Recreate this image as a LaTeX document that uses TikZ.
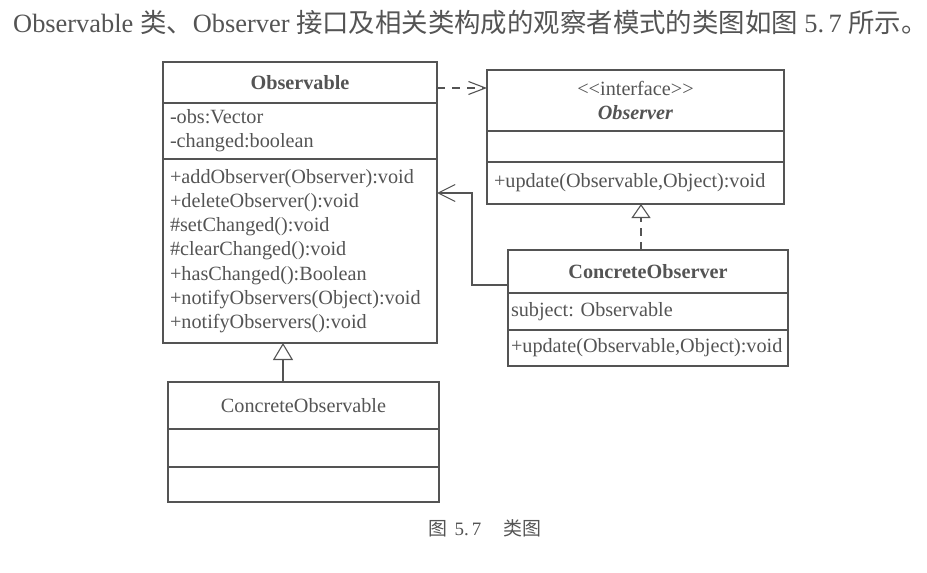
\documentclass[tikz,border=0pt]{standalone}
\usepackage{fontspec}
\setmainfont{Liberation Serif}
\newfontfamily\cjkfont{Noto Sans CJK SC}
\usetikzlibrary{arrows.meta, calc}

\definecolor{ink}{gray}{0.33}

\tikzset{
  compart/.style={draw=ink, line width=1.1bp, anchor=north west, outer sep=0pt,
    inner xsep=7bp, inner ysep=0pt, align=left, text=ink,
    font=\fontsize{20.3}{24.3}\selectfont\frenchspacing},
  head/.style={align=center},
  uml/.style={draw=ink, line width=1.1bp},
  dep/.style={uml, dash pattern=on 8bp off 7bp, -{Straight Barb[length=17bp, width=13bp]}},
  assoc/.style={uml, -{Straight Barb[length=17bp, width=17bp]}},
  inherit/.style={uml, -{Triangle[open, length=17bp, width=20bp]}},
  realize/.style={uml, dash pattern=on 8bp off 6bp, -{Triangle[open, length=14bp, width=19bp]}}
}

\begin{document}
\begin{tikzpicture}[x=1bp, y=-1bp]
\useasboundingbox (0,0) rectangle (927,573);

%%%%%%%%%%%%%%%%%%%
% The text line above the figure

\node[anchor=base west, inner sep=0pt, text=ink, font=\fontsize{26.5}{30}\selectfont] (intro) at (13,33)
  {Observable {\cjkfont 类、}Observer {\cjkfont 接口及相关类构成的观察者模式的类图如图} 5.\,7 {\cjkfont 所示。}};

%%%%%%%%%%%%%%%%%%%
% Observable

\node[compart, head, text width=260bp, minimum height=41bp] (obsHead) at (163,62) {\textbf{Observable}};
\node[compart, text width=260bp, minimum height=56bp] (obsAttr) at (obsHead.south west)
  {-obs:Vector\\-changed:boolean};
\node[compart, text width=260bp, minimum height=184bp] (obsOps) at (obsAttr.south west)
  {+addObserver(Observer):void\\
   +deleteObserver():void\\
   \#setChanged():void\\
   \#clearChanged():void\\
   +hasChanged():Boolean\\
   +notifyObservers(Object):void\\
   +notifyObservers():void};

%%%%%%%%%%%%%%%%%%%
% Observer (interface)

\node[compart, head, text width=283bp, minimum height=61bp] (ifHead) at (487,70)
  {<\kern0pt<interface>\kern0pt>\\\textbf{\textit{Observer}}};
\node[compart, text width=283bp, minimum height=31bp] (ifAttr) at (ifHead.south west) {};
\node[compart, text width=283bp, minimum height=42bp] (ifOps) at (ifAttr.south west)
  {+update(Observable,Object):void};

%%%%%%%%%%%%%%%%%%%
% ConcreteObserver

\node[compart, head, text width=266bp, minimum height=43bp] (coHead) at (508,250) {\textbf{ConcreteObserver}};
\node[compart, text width=274bp, minimum height=37bp, inner xsep=3bp] (coAttr) at (coHead.south west)
  {subject: Observable};
\node[compart, text width=274bp, minimum height=36bp, inner xsep=3bp] (coOps) at (coAttr.south west)
  {+update(Observable,Object):void};

%%%%%%%%%%%%%%%%%%%
% ConcreteObservable

\node[compart, head, text width=257bp, minimum height=47bp] (cobHead) at (168,382) {ConcreteObservable};
\node[compart, text width=257bp, minimum height=38bp] (cobAttr) at (cobHead.south west) {};
\node[compart, text width=257bp, minimum height=35bp] (cobOps) at (cobAttr.south west) {};

%%%%%%%%%%%%%%%%%%%
% Relations

\coordinate (depStart) at ($(obsHead.east)+(0,5.5)$);
\draw[dep] (depStart) -- (depStart -| ifHead.west);

\coordinate (assocStart) at ($(coHead.south west)+(0,-8)$);
\coordinate (assocEnd) at ($(obsOps.north east)+(0,34)$);
\draw[assoc] (assocStart) -- ++(-36,0) |- (assocEnd);

\coordinate (realStart) at ($(coHead.north)+(-7,0)$);
\draw[realize] (realStart) -- (realStart |- ifOps.south);

\coordinate (inhStart) at ($(cobHead.north)+(-20.5,0)$);
\draw[inherit] (inhStart) -- (inhStart |- obsOps.south);

%%%%%%%%%%%%%%%%%%%
% Caption

\node[inner sep=0pt, text=ink, font=\fontsize{19}{22}\selectfont] (caption) at (485,528)
  {{\cjkfont 图}\hspace{7bp}5.\,7\hspace{22bp}{\cjkfont 类图}};

\end{tikzpicture}
\end{document}
